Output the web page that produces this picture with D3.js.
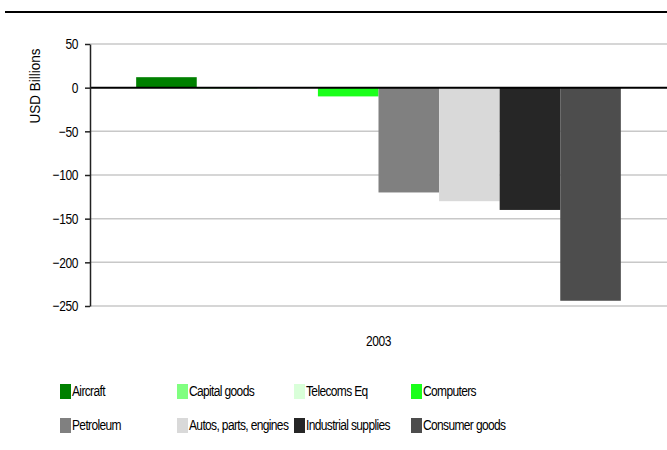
<!DOCTYPE html>
<html>
<head>
<meta charset="utf-8">
<script src="https://cdn.jsdelivr.net/npm/d3@7"></script>
<style>
	body { margin: 0; background: #fff; }
	svg text { font-family: "Liberation Sans", Arial, sans-serif; fill: #000; }
</style>
</head>
<body>
<div id="viz"></div>
<script>
const years = ['2003'];
const series = ['Aircraft', 'Capital goods', 'Telecoms Eq', 'Computers',
	'Petroleum', 'Autos, parts, engines', 'Industrial supplies', 'Consumer goods'];
const values = [12, -1, -0.5, -10, -120, -130, -140, -244];
const colors = ['#008000', '#80ff80', '#d9ffd9', '#1aff1a',
	'#808080', '#d9d9d9', '#262626', '#4d4d4d'];
const yTicks = [50, 0, -50, -100, -150, -200, -250];

let margin = { top: 44, right: 0, bottom: 144, left: 90 },
	width = 667 - margin.left - margin.right,
	height = 450 - margin.top - margin.bottom;

// the reference uses a narrow face; squeeze Liberation Sans to match
const squeeze = 0.8;

let svg = d3.select('#viz').append('svg')
	.attr('width', 667)
	.attr('height', 450);

// top rule
svg.append('line')
	.attr('x1', 5).attr('x2', 667)
	.attr('y1', 12).attr('y2', 12)
	.attr('stroke', '#000')
	.attr('stroke-width', 2);

let g = svg.append('g')
	.attr('transform', `translate(${margin.left},${margin.top})`);

let x0 = d3.scaleBand()
	.domain(years)
	.range([0, width])
	.paddingInner(0.16)
	.paddingOuter(0.08);

let x1 = d3.scaleBand()
	.domain(series)
	.range([0, x0.bandwidth()]);

let y = d3.scaleLinear()
	.domain([-250, 50])
	.range([height, 0]);

// gridlines
g.append('g')
	.selectAll('line')
	.data(yTicks.filter(d => d !== 0))
	.join('line')
	.attr('x1', 0).attr('x2', width)
	.attr('y1', d => y(d)).attr('y2', d => y(d))
	.attr('stroke', '#c8c8c8')
	.attr('stroke-width', 1.5);

// bars
let data = series.map((s, i) => ({ year: years[0], s, v: values[i], c: colors[i] }));

g.append('g')
	.selectAll('rect')
	.data(data)
	.join('rect')
	.attr('x', d => x0(d.year) + x1(d.s))
	.attr('width', x1.bandwidth())
	.attr('y', d => y(Math.max(0, d.v)))
	.attr('height', d => Math.abs(y(d.v) - y(0)))
	.attr('fill', d => d.c);

// zero line
g.append('line')
	.attr('x1', 0).attr('x2', width)
	.attr('y1', y(0)).attr('y2', y(0))
	.attr('stroke', '#000')
	.attr('stroke-width', 2);

// y axis
let yAxis = g.append('g')
	.call(d3.axisLeft(y).tickValues(yTicks).tickSize(5).tickSizeOuter(0).tickPadding(10));
yAxis.select('.domain').attr('stroke', '#222').attr('stroke-width', 1.5);
yAxis.selectAll('.tick line').attr('stroke', '#222').attr('stroke-width', 1.5);
yAxis.selectAll('.tick text')
	.style('font-size', '15px')
	.style('font-family', '"Liberation Sans", Arial, sans-serif')
	.style('letter-spacing', '-0.5px')
	.attr('transform', `scale(${squeeze},1)`)
	.attr('fill', '#000');

// y axis title
svg.append('text')
	.attr('transform', `translate(40,${margin.top + 42}) rotate(-90) scale(0.9,1)`)
	.attr('text-anchor', 'middle')
	.style('font-size', '15px')
	.text('USD Billions');

// category label
svg.append('text')
	.attr('transform', `translate(${margin.left + x0('2003') + x0.bandwidth() / 2},346) scale(${squeeze},1)`)
	.attr('text-anchor', 'middle')
	.style('font-size', '15px')
	.style('letter-spacing', '-0.5px')
	.text('2003');

// legend
let legend = svg.append('g')
	.selectAll('g')
	.data(data)
	.join('g')
	.attr('transform', (d, i) => `translate(${60 + (i % 4) * 117},${384 + Math.floor(i / 4) * 34})`);

legend.append('rect')
	.attr('width', 11)
	.attr('height', 15)
	.attr('fill', d => d.c);

legend.append('text')
	.attr('transform', `translate(12,12) scale(${squeeze},1)`)
	.style('font-size', '15px')
	.style('letter-spacing', '-0.8px')
	.text(d => d.s);
</script>
</body>
</html>
